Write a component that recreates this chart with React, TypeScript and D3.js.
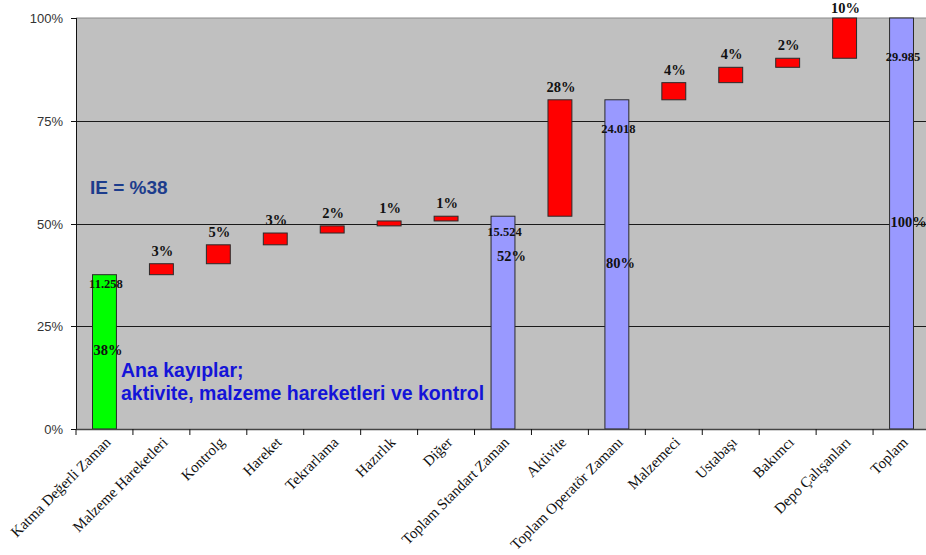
import React from "react";
import * as d3 from "d3";

// Waterfall of time components (values in minutes), last item is the grand total
const categories = [
  "Katma Değerli Zaman",
  "Malzeme Hareketleri",
  "Kontrolg",
  "Hareket",
  "Tekrarlama",
  "Hazırlık",
  "Diğer",
  "Toplam Standart Zaman",
  "Aktivite",
  "Toplam Operatör Zamanı",
  "Malzemeci",
  "Ustabaşı",
  "Bakımcı",
  "Depo Çalışanları",
  "Toplam",
];

// "base" = value-added start bar, "loss" = floating step, "total" = subtotal from zero
const barKinds = [
  "base", "loss", "loss", "loss", "loss", "loss", "loss",
  "total", "loss", "total", "loss", "loss", "loss", "loss", "total",
];

const values = [
  11.258, 0.8, 1.38, 0.86, 0.52, 0.36, 0.346,
  15.524, 8.494, 24.018, 1.25, 1.12, 0.66, 2.937, 29.985,
];

const yTickFractions = [0, 0.25, 0.5, 0.75, 1];

const W = 926;
const H = 555;
const plotLeft = 76;
const plotRight = 930;
const plotTop = 18;
const plotBottom = 429;

const SERIF = "'Liberation Serif', 'Times New Roman', serif";
const SANS = "'Liberation Sans', Arial, sans-serif";

const fillFor: Record<string, string> = {
  base: "#00ff00",
  loss: "#ff0000",
  total: "#9999ff",
};

export default function App() {
  const grand = values[values.length - 1];

  let running = 0;
  const bars = categories.map((c, i) => {
    const kind = barKinds[i];
    const v = values[i];
    let lo: number;
    let hi: number;
    if (kind === "loss") {
      lo = running;
      hi = running + v;
    } else {
      lo = 0;
      hi = v;
    }
    running = hi;
    return { c, kind, v, lo, hi };
  });

  const x = d3
    .scaleBand<string>()
    .domain(categories)
    .range([plotLeft, plotRight])
    .paddingInner(0.58)
    .paddingOuter(0.29);
  const y = d3.scaleLinear().domain([0, grand]).range([plotBottom, plotTop]);

  const bw = x.bandwidth();
  const step = x.step();
  const boundaries = d3.range(categories.length + 1).map((i) => plotLeft + i * step);
  const pct = (v: number) => `${Math.round((v / grand) * 100)}%`;
  const fmtVal = d3.format(".3f");

  return (
    <svg
      width={W}
      height={H}
      style={{ position: "absolute", left: 0, top: 0, display: "block", background: "#fff" }}
    >
      {/* plot area */}
      <rect x={plotLeft} y={plotTop} width={plotRight - plotLeft} height={plotBottom - plotTop} fill="#c0c0c0" />
      <line x1={plotLeft} x2={plotRight} y1={plotTop} y2={plotTop} stroke="#8a8a8a" strokeWidth={1} />

      {/* horizontal gridlines */}
      {yTickFractions
        .filter((f) => f > 0 && f < 1)
        .map((f) => (
          <line
            key={`g${f}`}
            x1={plotLeft}
            x2={plotRight}
            y1={Math.round(y(f * grand)) + 0.5}
            y2={Math.round(y(f * grand)) + 0.5}
            stroke="#1a1a1a"
            strokeWidth={1}
          />
        ))}

      {/* bars */}
      {bars.map((b) => (
        <rect
          key={b.c}
          x={x(b.c)!}
          y={y(b.hi)}
          width={bw}
          height={y(b.lo) - y(b.hi)}
          fill={fillFor[b.kind]}
          stroke="#2a2a2a"
          strokeWidth={1}
        />
      ))}

      {/* axes */}
      <line x1={plotLeft + 0.5} x2={plotLeft + 0.5} y1={plotTop} y2={plotBottom} stroke="#111" strokeWidth={1} />
      <line x1={plotLeft} x2={plotRight} y1={plotBottom + 0.5} y2={plotBottom + 0.5} stroke="#444" strokeWidth={1.5} />

      {yTickFractions.map((f) => {
        const yy = Math.round(y(f * grand)) + 0.5;
        return (
          <g key={`yt${f}`}>
            <line x1={plotLeft - 5} x2={plotLeft} y1={yy} y2={yy} stroke="#111" />
            <text
              x={plotLeft - 13}
              y={yy}
              dy="0.35em"
              textAnchor="end"
              fontFamily={SANS}
              fontSize={13}
              fill="#333"
            >
              {d3.format(".0%")(f)}
            </text>
          </g>
        );
      })}

      {boundaries.map((bx, i) => (
        <line key={`xt${i}`} x1={bx} x2={bx} y1={plotBottom} y2={plotBottom + 6} stroke="#111" />
      ))}

      {categories.map((c) => {
        const cx = x(c)! + bw / 2 + 4;
        const cy = 440;
        return (
          <text
            key={`xl${c}`}
            transform={`translate(${cx},${cy}) rotate(-45)`}
            textAnchor="end"
            dy="0.3em"
            fontFamily={SERIF}
            fontSize={15}
            fill="#111"
          >
            {c}
          </text>
        );
      })}

      {/* step labels above the floating bars */}
      {bars
        .filter((b) => b.kind === "loss")
        .map((b) => (
          <text
            key={`ll${b.c}`}
            x={x(b.c)! + bw / 2 + 1}
            y={Math.max(y(b.hi) - 8, 13)}
            textAnchor="middle"
            fontFamily={SERIF}
            fontWeight="bold"
            fontSize={14.5}
            fill="#111"
          >
            {pct(b.v)}
          </text>
        ))}

      {/* value and share labels inside the bars that start from zero */}
      {bars
        .filter((b) => b.kind !== "loss")
        .map((b) => {
          const top = y(b.hi);
          const h = y(0) - top;
          const valY = top + 0.117 * h - 5;
          const isStd = b.c === "Toplam Standart Zaman";
          const pctY = isStd ? valY + 25 : (top + y(0)) / 2 + 3.5;
          const left = x(b.c)!;
          return (
            <g key={`tl${b.c}`}>
              <text
                x={left + bw / 2 + 1.5}
                y={valY}
                textAnchor="middle"
                fontFamily={SERIF}
                fontWeight="bold"
                fontSize={12.5}
                fill="#111"
              >
                {fmtVal(b.v)}
              </text>
              <text
                x={left + (isStd ? 6 : 1)}
                y={pctY}
                textAnchor="start"
                fontFamily={SERIF}
                fontWeight="bold"
                fontSize={14.5}
                fill="#111"
              >
                {pct(b.v)}
              </text>
            </g>
          );
        })}

      {/* annotations */}
      <text x={90} y={194} fontFamily={SANS} fontWeight="bold" fontSize={19} fill="#1c3c8c">
        {`IE = %${Math.round((values[0] / grand) * 100)}`}
      </text>
      <text fontFamily={SANS} fontWeight="bold" fontSize={19.5} fill="#1414d8">
        <tspan x={121} y={377}>Ana kayıplar;</tspan>
        <tspan x={121} y={400}>aktivite, malzeme hareketleri ve kontrol</tspan>
      </text>
    </svg>
  );
}
